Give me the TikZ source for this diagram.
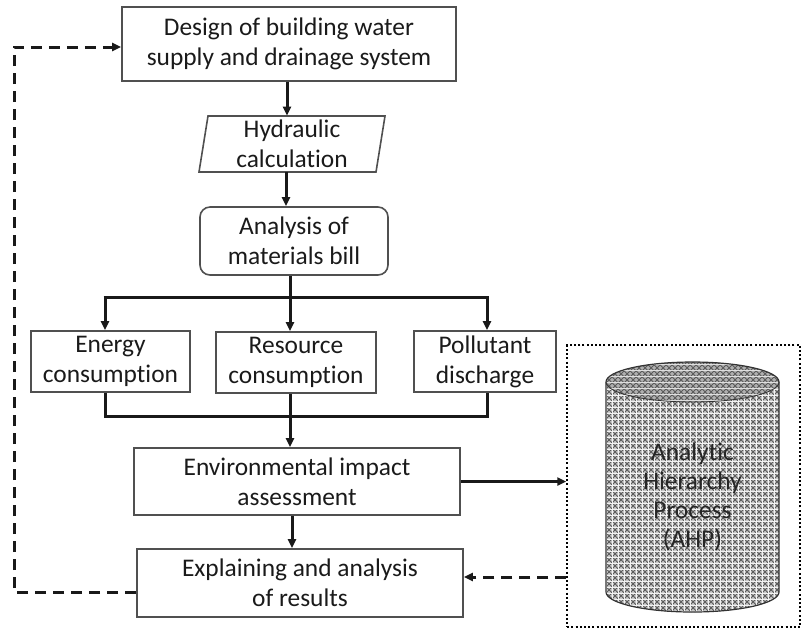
\documentclass[tikz,border=0pt]{standalone}
\usepackage{fontspec}
\setmainfont{Carlito}[Ligatures={NoCommon}]
\usetikzlibrary{arrows.meta,patterns}
\definecolor{boxgray}{HTML}{505050}
\definecolor{txt}{HTML}{1A1A1A}
\begin{document}
\begin{tikzpicture}[x=0.5pt,y=-0.5pt,
  txtfont/.style={font=\fontsize{12.7}{15}\selectfont, text=txt},
  box/.style={draw=boxgray, line width=0.8pt, inner sep=0pt, align=center, txtfont},
  conn/.style={line width=1.5pt, black!90},
  arr/.style={conn, -{Triangle[length=4.5pt,width=4pt]}},
  darr/.style={conn, dash pattern=on 5.5pt off 3.5pt, -{Triangle[length=4.5pt,width=4pt]}}]
\useasboundingbox (0,0) rectangle (802,629);

% nodes
\node[box, minimum width=167pt, minimum height=37pt] (top) at (289,44) {Design of building water\\supply and drainage system};
\node[inner sep=0pt, align=center, txtfont, minimum width=93pt, minimum height=28pt] (hyd) at (292,144) {Hydraulic\\calculation};
\draw[boxgray, line width=0.8pt] (208,116) -- (385,116) -- (376,172) -- (199,172) -- cycle;
\node[box, rounded corners=5pt, minimum width=94pt, minimum height=34pt] (mat) at (294,241) {Analysis of\\materials bill};
\node[box, minimum width=79.5pt, minimum height=30.5pt] (energy) at (110.5,361.5) {Energy\\consumption};
\node[box, minimum width=80pt, minimum height=30.5pt] (resource) at (296,362.5) {Resource\\consumption};
\node[box, minimum width=71pt, minimum height=30.5pt] (pollutant) at (485,361.5) {Pollutant\\discharge};
\node[box, minimum width=163pt, minimum height=33.5pt] (env) at (297,481.5) {Environmental impact\\assessment};
\node[box, minimum width=163pt, minimum height=34pt] (explain) at (300,583) {Explaining and analysis\\of results};
\node[draw=black, line width=1pt, dash pattern=on 1pt off 1.1pt, inner sep=0pt, minimum width=116.5pt, minimum height=141pt] (ahpbox) at (683.75,486.25) {};

% cylinder
\def\cylbody{(606,382) -- (606,592) arc[start angle=180, end angle=360, x radius=43.25pt, y radius=10pt] -- (779,382) arc[start angle=0, end angle=180, x radius=43.25pt, y radius=10pt] -- cycle}
\fill[gray!42] \cylbody;
\fill[pattern=crosshatch, pattern color=gray!70!black] \cylbody;
\fill[pattern=grid, pattern color=white!90!gray] \cylbody;
\fill[gray!62] (692.5,382) ellipse[x radius=43.25pt, y radius=10pt];
\fill[pattern=crosshatch, pattern color=gray!70!black] (692.5,382) ellipse[x radius=43.25pt, y radius=10pt];
\fill[pattern=horizontal lines, pattern color=gray!25] (692.5,382) ellipse[x radius=43.25pt, y radius=10pt];
\draw[gray!40!black, line width=0.6pt] \cylbody;
\draw[gray!40!black, line width=0.4pt] (606,382) arc[start angle=180, end angle=360, x radius=43.25pt, y radius=10pt];
\node[align=center, font=\fontsize{12.7}{14.5}\selectfont, text=black!85] (ahp) at (692.5,497) {Analytic\\Hierarchy\\Process\\(AHP)};

% connectors
\draw[arr] ([xshift=-1pt]top.south) -- ([xshift=-1pt]top.south |- hyd.north);
\draw[arr] ([xshift=-3pt]hyd.south) -- ([xshift=-3pt]hyd.south |- mat.north);
\coordinate (sl) at (105,297);
\coordinate (sr) at (487,297);
\coordinate (sm) at (290,297);
\draw[conn] ([xshift=-2pt]mat.south) -- (sm);
\draw[conn] ([xshift=-0.75pt]sl) -- ([xshift=0.75pt]sr);
\draw[arr] (sl) -- (sl |- energy.north);
\draw[arr] (sm) -- (sm |- resource.north);
\draw[arr] (sr) -- (sr |- pollutant.north);
\coordinate (jl) at (105,416);
\coordinate (jr) at (487,416);
\coordinate (jm) at (290,416);
\draw[conn] (jl |- energy.south) -- (jl) -- (jr) -- (jr |- pollutant.south);
\draw[arr] (jm |- resource.south) -- (jm |- env.north);
\draw[arr] ([xshift=-2.5pt]env.south) -- ([xshift=-2.5pt]env.south |- explain.north);
\draw[arr] (env.east) -- (ahpbox.west |- env.east);
\coordinate (dy) at (0,577);
\draw[darr] (ahpbox.west |- dy) -- (explain.east |- dy);
\coordinate (lb) at (14,592);
\coordinate (lt) at (14,47);
\draw[darr] (explain.west |- lb) -- (lb) -- (lt) -- (top.west |- lt);
\end{tikzpicture}
\end{document}
